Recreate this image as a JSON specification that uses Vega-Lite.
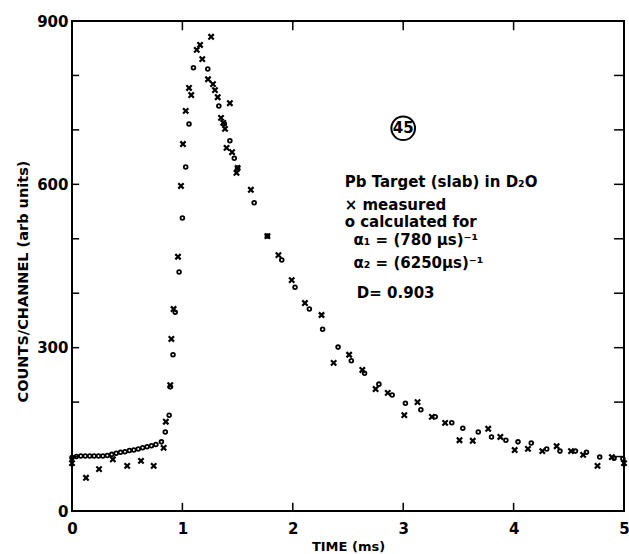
{
  "$schema": "https://vega.github.io/schema/vega-lite/v6.json",
  "width": 552,
  "height": 490,
  "autosize": {"type": "none"},
  "padding": {"left": 72, "top": 21, "right": 5, "bottom": 43},
  "background": "white",
  "config": {
    "view": {"stroke": "black", "strokeWidth": 2},
    "font": "DejaVu Sans"
  },
  "datasets": {
    "measured": [
      {"t": 0.0, "v": 88}, {"t": 0.127, "v": 61}, {"t": 0.245, "v": 77}, {"t": 0.37, "v": 95},
      {"t": 0.5, "v": 83}, {"t": 0.625, "v": 92}, {"t": 0.74, "v": 83}, {"t": 0.83, "v": 116},
      {"t": 0.85, "v": 164}, {"t": 0.89, "v": 231}, {"t": 0.9, "v": 316}, {"t": 0.92, "v": 371},
      {"t": 0.96, "v": 467}, {"t": 0.987, "v": 597}, {"t": 1.005, "v": 674}, {"t": 1.03, "v": 735},
      {"t": 1.06, "v": 777}, {"t": 1.08, "v": 764}, {"t": 1.13, "v": 847}, {"t": 1.16, "v": 856},
      {"t": 1.18, "v": 830}, {"t": 1.26, "v": 871}, {"t": 1.232, "v": 793}, {"t": 1.277, "v": 784},
      {"t": 1.295, "v": 773}, {"t": 1.32, "v": 760}, {"t": 1.35, "v": 722}, {"t": 1.37, "v": 713},
      {"t": 1.386, "v": 702}, {"t": 1.43, "v": 749}, {"t": 1.4, "v": 667}, {"t": 1.45, "v": 659},
      {"t": 1.5, "v": 630}, {"t": 1.49, "v": 621}, {"t": 1.62, "v": 590}, {"t": 1.77, "v": 505},
      {"t": 1.87, "v": 470}, {"t": 1.99, "v": 424}, {"t": 2.11, "v": 382}, {"t": 2.26, "v": 360},
      {"t": 2.37, "v": 272}, {"t": 2.51, "v": 287}, {"t": 2.63, "v": 259}, {"t": 2.75, "v": 224},
      {"t": 2.86, "v": 217}, {"t": 3.01, "v": 176}, {"t": 3.13, "v": 200}, {"t": 3.26, "v": 173},
      {"t": 3.38, "v": 162}, {"t": 3.51, "v": 130}, {"t": 3.63, "v": 129}, {"t": 3.77, "v": 151},
      {"t": 3.88, "v": 136}, {"t": 4.01, "v": 112}, {"t": 4.13, "v": 114}, {"t": 4.26, "v": 110},
      {"t": 4.39, "v": 119}, {"t": 4.52, "v": 110}, {"t": 4.63, "v": 103}, {"t": 4.76, "v": 83},
      {"t": 4.89, "v": 99}, {"t": 5.0, "v": 88}
    ],
    "calculated": [
      {"t": 0.0, "v": 98}, {"t": 0.04, "v": 100}, {"t": 0.08, "v": 101}, {"t": 0.12, "v": 101},
      {"t": 0.16, "v": 101}, {"t": 0.2, "v": 101}, {"t": 0.24, "v": 101}, {"t": 0.28, "v": 101},
      {"t": 0.32, "v": 102}, {"t": 0.36, "v": 104}, {"t": 0.4, "v": 106}, {"t": 0.44, "v": 108},
      {"t": 0.48, "v": 109}, {"t": 0.52, "v": 111}, {"t": 0.56, "v": 112}, {"t": 0.6, "v": 114},
      {"t": 0.64, "v": 116}, {"t": 0.68, "v": 118}, {"t": 0.72, "v": 120}, {"t": 0.76, "v": 122},
      {"t": 0.81, "v": 127}, {"t": 0.845, "v": 145}, {"t": 0.88, "v": 176}, {"t": 0.89, "v": 228},
      {"t": 0.915, "v": 287}, {"t": 0.935, "v": 365}, {"t": 0.97, "v": 439}, {"t": 1.0, "v": 538},
      {"t": 1.03, "v": 632}, {"t": 1.06, "v": 711}, {"t": 1.1, "v": 814}, {"t": 1.23, "v": 812},
      {"t": 1.33, "v": 744}, {"t": 1.38, "v": 711}, {"t": 1.43, "v": 680}, {"t": 1.47, "v": 648},
      {"t": 1.5, "v": 630}, {"t": 1.65, "v": 566}, {"t": 1.77, "v": 505}, {"t": 1.9, "v": 461},
      {"t": 2.02, "v": 411}, {"t": 2.15, "v": 371}, {"t": 2.27, "v": 334}, {"t": 2.41, "v": 301},
      {"t": 2.53, "v": 276}, {"t": 2.65, "v": 253}, {"t": 2.78, "v": 233}, {"t": 2.9, "v": 213},
      {"t": 3.02, "v": 198}, {"t": 3.16, "v": 186}, {"t": 3.29, "v": 173}, {"t": 3.44, "v": 162},
      {"t": 3.54, "v": 152}, {"t": 3.68, "v": 145}, {"t": 3.8, "v": 136}, {"t": 3.93, "v": 130},
      {"t": 4.04, "v": 127}, {"t": 4.16, "v": 125}, {"t": 4.3, "v": 114}, {"t": 4.42, "v": 110},
      {"t": 4.56, "v": 110}, {"t": 4.66, "v": 108}, {"t": 4.78, "v": 99}, {"t": 4.91, "v": 97},
      {"t": 4.99, "v": 96}
    ],
    "notes": [
      {"t": 2.47, "v": 604, "label": "Pb Target (slab) in D₂O"},
      {"t": 2.47, "v": 562, "label": "× measured"},
      {"t": 2.47, "v": 531, "label": "o calculated for"},
      {"t": 2.55, "v": 498, "label": "α₁ = (780 μs)⁻¹"},
      {"t": 2.55, "v": 455, "label": "α₂ = (6250μs)⁻¹"},
      {"t": 2.58, "v": 400, "label": "D= 0.903"}
    ],
    "badge": [{"t": 3.0, "v": 703, "label": "45"}],
    "xticks": [{"t": 1}, {"t": 2}, {"t": 3}, {"t": 4}],
    "yticks": [{"v": 100}, {"v": 200}, {"v": 300}, {"v": 400}, {"v": 500}, {"v": 600}, {"v": 700}, {"v": 800}]
  },
  "layer": [
    {
      "data": {"name": "measured"},
      "mark": {"type": "point", "shape": "M-1,-1L1,1M-1,1L1,-1", "filled": false, "stroke": "black", "strokeWidth": 2.2, "size": 28, "opacity": 1},
      "encoding": {
        "x": {"field": "t", "type": "quantitative", "scale": {"domain": [0, 5], "nice": false},
          "axis": {"values": [0, 1, 2, 3, 4, 5], "format": "d", "grid": false, "domain": false, "ticks": false, "labelPadding": 10, "labelFontSize": 15, "labelFontWeight": "bold", "labelColor": "black", "labelFlush": false, "title": "TIME (ms)", "titleColor": "black", "titleFontSize": 13, "titleFontWeight": "bold", "titlePadding": 4}},
        "y": {"field": "v", "type": "quantitative", "scale": {"domain": [0, 900], "nice": false},
          "axis": {"values": [0, 300, 600, 900], "format": "d", "grid": false, "domain": false, "ticks": false, "labelPadding": 4, "labelFontSize": 15, "labelFontWeight": "bold", "labelColor": "black", "labelFlush": false, "title": "COUNTS/CHANNEL (arb units)", "titleColor": "black", "titleFontSize": 14.5, "titleFontWeight": "bold", "titlePadding": 6, "titleY": 260}}
      }
    },
    {
      "data": {"name": "calculated"},
      "mark": {"type": "point", "shape": "circle", "filled": false, "stroke": "black", "strokeWidth": 1.8, "size": 14, "opacity": 1},
      "encoding": {
        "x": {"field": "t", "type": "quantitative"},
        "y": {"field": "v", "type": "quantitative"}
      }
    },
    {
      "data": {"name": "xticks"},
      "mark": {"type": "rule", "color": "black", "strokeWidth": 1.5},
      "encoding": {
        "x": {"field": "t", "type": "quantitative"},
        "y": {"datum": 0, "type": "quantitative"},
        "y2": {"datum": 15}
      }
    },
    {
      "data": {"name": "xticks"},
      "mark": {"type": "rule", "color": "black", "strokeWidth": 1.5},
      "encoding": {
        "x": {"field": "t", "type": "quantitative"},
        "y": {"datum": 900, "type": "quantitative"},
        "y2": {"datum": 883}
      }
    },
    {
      "data": {"name": "yticks"},
      "mark": {"type": "rule", "color": "black", "strokeWidth": 1.5},
      "encoding": {
        "y": {"field": "v", "type": "quantitative"},
        "x": {"datum": 0, "type": "quantitative"},
        "x2": {"datum": 0.065}
      }
    },
    {
      "data": {"name": "yticks"},
      "mark": {"type": "rule", "color": "black", "strokeWidth": 1.5},
      "encoding": {
        "y": {"field": "v", "type": "quantitative"},
        "x": {"datum": 5, "type": "quantitative"},
        "x2": {"datum": 4.91}
      }
    },
    {
      "data": {"name": "notes"},
      "mark": {"type": "text", "align": "left", "baseline": "middle", "fontSize": 15, "fontWeight": "bold", "color": "black"},
      "encoding": {
        "x": {"field": "t", "type": "quantitative"},
        "y": {"field": "v", "type": "quantitative"},
        "text": {"field": "label"}
      }
    },
    {
      "data": {"name": "badge"},
      "mark": {"type": "point", "shape": "circle", "filled": false, "stroke": "black", "strokeWidth": 2, "size": 560, "opacity": 1},
      "encoding": {
        "x": {"field": "t", "type": "quantitative"},
        "y": {"field": "v", "type": "quantitative"}
      }
    },
    {
      "data": {"name": "badge"},
      "mark": {"type": "text", "align": "center", "baseline": "middle", "fontSize": 15, "fontWeight": "bold", "color": "black"},
      "encoding": {
        "x": {"field": "t", "type": "quantitative"},
        "y": {"field": "v", "type": "quantitative"},
        "text": {"field": "label"}
      }
    }
  ]
}
